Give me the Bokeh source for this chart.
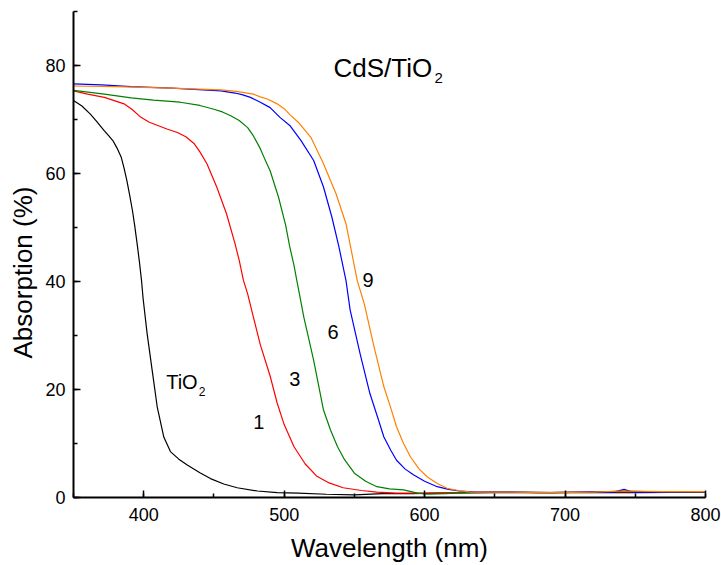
from bokeh.plotting import figure
from bokeh.models import Range1d, SingleIntervalTicker, Title
from bokeh.core.properties import value
from bokeh.embed import file_html
from bokeh.resources import INLINE

# ---------------- data ----------------
tio2_wl = [350, 356, 362, 366, 372, 375, 378, 381, 384, 386, 388, 390, 392, 393.5, 395.3, 397, 398.5, 399.5,
           402.4, 406, 409.6, 414.3, 419, 425, 431, 440, 447.5, 457, 466.5, 481, 495, 510, 530, 550, 570, 590,
           610, 650, 700, 750, 800]
tio2_abs = [73.5, 72.5, 71.0, 69.8, 67.9, 67.0, 66.1, 64.7, 63.0, 61.0, 58.7, 56.0, 53.1, 50.5, 47.0, 43.5,
            40.0, 37.0, 30.4, 23.6, 16.8, 11.2, 8.5, 7.1, 6.0, 4.6, 3.5, 2.5, 1.8, 1.2, 0.9, 0.8, 0.6, 0.5,
            0.7, 0.7, 0.8, 0.9, 0.9, 0.9, 1.0]

s1_wl = [350, 360, 372, 386, 392, 398, 404, 410, 417, 424, 430, 436, 440, 445, 452, 459, 465, 468, 471, 474,
         478, 483, 490, 495, 500, 507, 515, 523, 532, 542, 555, 566, 580, 600, 620, 650, 680, 710, 742, 770, 800]
s1_abs = [75.3, 74.7, 74.1, 72.9, 71.8, 70.4, 69.5, 68.9, 68.2, 67.6, 66.8, 65.5, 64.0, 61.8, 57.5, 52.5, 47.0,
          43.9, 40.2, 37.7, 33.5, 28.3, 22.5, 17.5, 13.5, 9.4, 6.2, 4.0, 2.7, 1.8, 1.3, 1.0, 0.8, 0.8, 0.9,
          1.0, 0.9, 1.0, 1.1, 1.0, 1.1]

s3_wl = [350, 372, 391, 407, 426, 440, 450, 456, 462, 468, 474, 478, 483, 486, 490, 496, 501, 504, 507, 509,
         514, 521, 528, 533, 538, 543, 550, 558, 566, 575, 585, 595, 602, 615, 630, 660, 690, 720, 742, 770, 800]
s3_abs = [75.4, 74.7, 74.0, 73.6, 73.2, 72.6, 71.9, 71.4, 70.7, 69.8, 68.5, 67.0, 64.6, 62.8, 60.5, 55.6, 50.5,
          46.4, 43.0, 40.2, 33.4, 25.4, 16.2, 12.5, 9.4, 7.0, 4.5, 3.0, 2.0, 1.6, 1.4, 0.8, 0.6, 0.7, 0.9,
          1.0, 0.9, 1.0, 1.2, 1.0, 1.1]

s6_wl = [350, 370, 391, 420, 455, 465, 470, 476, 483, 490, 497, 504, 512, 521, 528, 534, 539, 541, 544, 547,
         554, 561, 567, 571, 576, 580, 586, 592, 600, 609, 617, 625, 637, 660, 690, 720, 735, 742, 748, 770, 800]
s6_abs = [76.6, 76.4, 76.1, 75.8, 75.3, 74.9, 74.6, 74.1, 73.2, 72.2, 70.4, 68.9, 66.1, 62.4, 57.5, 51.9, 46.4,
          43.9, 40.2, 34.7, 26.7, 19.3, 14.5, 11.2, 8.7, 6.9, 5.3, 4.2, 3.0, 2.0, 1.5, 1.2, 1.0, 1.0, 0.9,
          1.0, 1.0, 1.5, 1.0, 1.0, 1.1]

s9_wl = [350, 380, 419, 455, 466, 478, 483, 488, 495, 500, 504, 510, 519, 528, 537, 544, 548, 552, 557, 564,
         571, 576, 580, 585, 590, 596, 602, 609, 616, 624, 633, 660, 690, 720, 742, 770, 800]
s9_abs = [76.2, 76.1, 75.8, 75.5, 75.2, 74.7, 74.2, 73.8, 72.9, 72.0, 70.9, 69.5, 66.7, 61.8, 56.2, 50.7, 45.5,
          40.2, 35.9, 27.9, 20.5, 16.5, 13.1, 10.0, 7.5, 5.3, 3.8, 2.6, 1.7, 1.3, 1.0, 1.0, 0.9, 1.0, 1.2,
          1.1, 1.1]

x_ticks_interval = 100
y_ticks_interval = 20
x_label = "Wavelength (nm)"
y_label = "Absorption (%)"

# ---------------- figure ----------------
p = figure(width=721, height=565, output_backend="svg", toolbar_location=None,
           x_range=Range1d(350, 800), y_range=Range1d(0, 90),
           min_border_left=73, min_border_right=16, min_border_top=11, min_border_bottom=68)
p.outline_line_color = None
p.xgrid.visible = False
p.ygrid.visible = False
p.background_fill_color = "white"
p.border_fill_color = "white"

p.xaxis.ticker = SingleIntervalTicker(interval=x_ticks_interval, num_minor_ticks=2)
p.yaxis.ticker = SingleIntervalTicker(interval=y_ticks_interval, num_minor_ticks=2)

for ax in (p.xaxis[0], p.yaxis[0]):
    ax.axis_line_width = 2
    ax.axis_line_color = "black"
    ax.major_tick_in = 7
    ax.major_tick_out = 0
    ax.minor_tick_in = 4
    ax.minor_tick_out = 0
    ax.major_tick_line_width = 1.5
    ax.minor_tick_line_width = 1.5
    ax.major_tick_line_color = "black"
    ax.minor_tick_line_color = "black"
    ax.major_label_text_font = "Liberation Sans"
    ax.major_label_text_font_size = "18px"
    ax.major_label_text_color = "black"
    ax.axis_label_text_font = "Liberation Sans"
    ax.axis_label_text_font_size = "26px"
    ax.axis_label_text_font_style = "normal"
    ax.axis_label_text_color = "black"

p.xaxis.axis_label = x_label
p.xaxis.major_label_standoff = 10
p.yaxis.major_label_standoff = 8
p.xaxis.axis_label_standoff = 9

# y-axis title as a side-panel title so it can be shifted along the axis like the original
p.add_layout(Title(text=y_label, align="left", offset=139, standoff=10,
                   text_font="Liberation Sans", text_font_size="26px",
                   text_font_style="normal", text_color="black"), "left")

p.line(tio2_wl, tio2_abs, line_color="black", line_width=1.2)
p.line(s1_wl, s1_abs, line_color="#ff0000", line_width=1.2)
p.line(s3_wl, s3_abs, line_color="#008000", line_width=1.2)
p.line(s6_wl, s6_abs, line_color="#0000ff", line_width=1.2)
p.line(s9_wl, s9_abs, line_color="#ff8000", line_width=1.2)

# ---------------- annotations ----------------
font = value("Liberation Sans")
p.text(x=[416, 478, 503.7, 530.8, 555.7], y=[21.3, 14.0, 21.9, 30.6, 40.2],
       text=["TiO", "1", "3", "6", "9"], text_font=font, text_font_size=value("20px"),
       text_color="black", text_align="left", text_baseline="alphabetic")
p.text(x=[439.2], y=[19.6], text=["2"], text_font=font, text_font_size=value("12px"),
       text_color="black", text_align="left", text_baseline="alphabetic")
p.text(x=[535.1], y=[79.6], text=["CdS/TiO"], text_font=font, text_font_size=value("26px"),
       text_color="black", text_align="left", text_baseline="alphabetic")
p.text(x=[607], y=[77.6], text=["2"], text_font=font, text_font_size=value("15px"),
       text_color="black", text_align="left", text_baseline="alphabetic")

open("out.html", "w").write(file_html(p, INLINE))
